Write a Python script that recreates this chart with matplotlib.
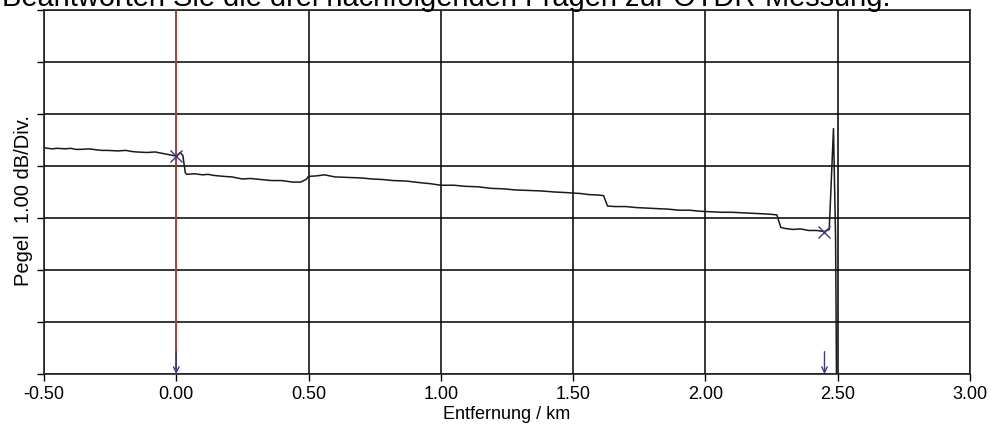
import matplotlib
matplotlib.use("Agg")
import matplotlib.pyplot as plt

plt.rcParams['font.family'] = ['Liberation Sans', 'DejaVu Sans']

# OTDR trace: distance (km) and level (dB, 1 dB per division)
dist_km = [-0.50, -0.47, -0.45, -0.42, -0.40, -0.38, -0.36, -0.33, -0.30, -0.28,
           -0.26, -0.22, -0.19, -0.17, -0.15, -0.11, -0.08, -0.06, -0.04, -0.01,
           0.00, 0.015, 0.025, 0.034, 0.04, 0.07, 0.10, 0.12, 0.14, 0.18,
           0.21, 0.23, 0.25, 0.28, 0.32, 0.34, 0.36, 0.40, 0.44, 0.47,
           0.49, 0.50, 0.53, 0.56, 0.60, 0.65, 0.70, 0.74, 0.78, 0.82,
           0.87, 0.92, 0.96, 1.00, 1.05, 1.09, 1.14, 1.19, 1.24, 1.28,
           1.33, 1.38, 1.43, 1.47, 1.50, 1.53, 1.56, 1.60, 1.615, 1.63,
           1.66, 1.70, 1.74, 1.78, 1.82, 1.86, 1.90, 1.94, 1.98, 2.02,
           2.06, 2.10, 2.14, 2.18, 2.22, 2.25, 2.27, 2.285, 2.30, 2.33,
           2.36, 2.39, 2.42, 2.45, 2.468, 2.484, 2.492, 2.496]
level_db = [4.35, 4.33, 4.34, 4.33, 4.34, 4.32, 4.32, 4.33, 4.31, 4.30,
            4.30, 4.29, 4.30, 4.28, 4.27, 4.26, 4.27, 4.25, 4.23, 4.20,
            4.19, 4.26, 4.20, 3.87, 3.84, 3.85, 3.83, 3.84, 3.82, 3.80,
            3.79, 3.77, 3.75, 3.76, 3.74, 3.73, 3.72, 3.72, 3.69, 3.69,
            3.74, 3.80, 3.81, 3.83, 3.79, 3.78, 3.77, 3.75, 3.74, 3.72,
            3.71, 3.68, 3.66, 3.63, 3.63, 3.61, 3.60, 3.57, 3.56, 3.54,
            3.53, 3.52, 3.50, 3.49, 3.48, 3.47, 3.45, 3.44, 3.43, 3.23,
            3.22, 3.22, 3.20, 3.19, 3.18, 3.17, 3.15, 3.15, 3.13, 3.12,
            3.11, 3.11, 3.10, 3.09, 3.08, 3.07, 3.06, 2.82, 2.80, 2.78,
            2.79, 2.76, 2.76, 2.74, 2.78, 4.72, 2.60, -0.50]

# event markers (x) and arrow positions
marker_km = [0.00, 2.45]
marker_db = [4.19, 2.74]
arrow_km = [0.00, 2.45]
cursor_km = 0.00

x_ticks = [-0.50, 0.00, 0.50, 1.00, 1.50, 2.00, 2.50, 3.00]
y_ticks = [0, 1, 2, 3, 4, 5, 6, 7]

W, H = 993, 427
fig = plt.figure(figsize=(W / 100, H / 100), dpi=100)
ax = fig.add_axes([44 / W, 1 - 375 / H, 926 / W, 364 / H])

ax.set_xlim(-0.5, 3.0)
ax.set_ylim(0, 7)
ax.set_xticks(x_ticks)
ax.set_xticklabels([f"{v:.2f}" for v in x_ticks])
ax.set_yticks(y_ticks)
ax.set_yticklabels([])
ax.tick_params(axis='both', direction='out', length=5, width=1, color='black',
               labelsize=13, pad=3)
ax.grid(True, color='black', linewidth=1.1)
ax.set_axisbelow(True)
for s in ax.spines.values():
    s.set_color('#222222')
    s.set_linewidth(1.2)

ax.axvline(cursor_km, color='#d04545', linewidth=1.1, zorder=3)
ax.plot(dist_km, level_db, color='#1a1a1a', linewidth=1.1, zorder=4, clip_on=True)
ax.plot(marker_km, marker_db, linestyle='none', marker='x', markersize=9,
        markeredgewidth=1.0, color='#3a3a85', zorder=5)
for xa in arrow_km:
    ax.annotate('', xy=(xa, 0.0), xytext=(xa, 0.43),
                arrowprops=dict(arrowstyle='->', color='#3a3a85', lw=1.0,
                                shrinkA=0, shrinkB=0, mutation_scale=10),
                annotation_clip=False, zorder=5)

ax.set_xlabel('Entfernung / km', fontsize=13, labelpad=2)
fig.text(24 / W, 1 - 200 / H, 'Pegel  1.00 dB/Div.', rotation=90,
         ha='center', va='center', fontsize=14.5)

# cropped heading at the very top of the image
title = fig.text(2 / W, 1 - 6 / H,
                 'Beantworten Sie die drei nachfolgenden Fragen zur OTDR-Messung.',
                 ha='left', va='baseline', fontsize=20)
fig.canvas.draw()
bb = title.get_window_extent()
title.set_fontsize(20 * 885 / bb.width)

fig.savefig('out.png', dpi=100)
